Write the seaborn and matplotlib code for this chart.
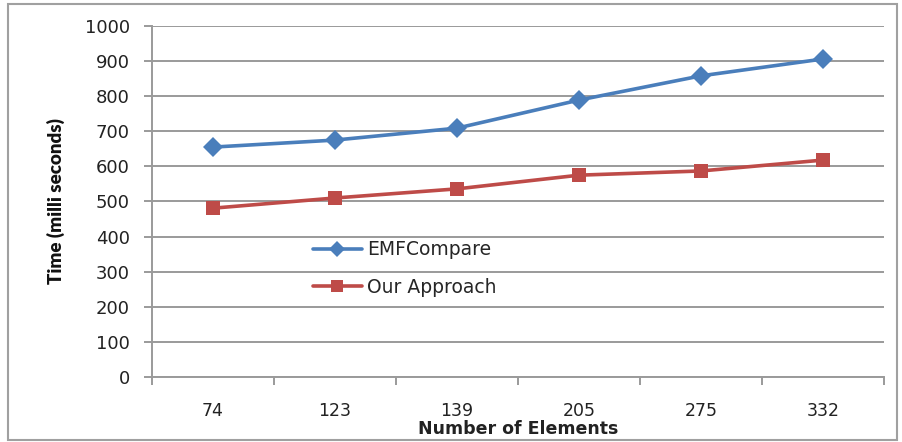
import matplotlib
matplotlib.use("Agg")
import matplotlib.pyplot as plt
import seaborn as sns
import pandas as pd
from matplotlib.patches import Rectangle

# Number of model elements compared and the time taken (ms)
elements = ["74", "123", "139", "205", "275", "332"]
emf_compare = [655, 675, 709, 789, 858, 906]
our_approach = [481, 510, 536, 575, 587, 618]
series_names = ["EMFCompare", "Our Approach"]
y_ticks = [0, 100, 200, 300, 400, 500, 600, 700, 800, 900, 1000]

df = pd.DataFrame({
    "Number of Elements": elements * 2,
    "Time": emf_compare + our_approach,
    "Series": [series_names[0]] * len(elements) + [series_names[1]] * len(elements),
})

sns.set_theme(style="white")
plt.rcParams["font.family"] = ["DejaVu Sans"]

fig = plt.figure(figsize=(9.02, 4.42), dpi=100)
ax = fig.add_axes([152 / 902, 1 - 377 / 442, 732 / 902, 351 / 442])

palette = {"EMFCompare": "#4A7EBB", "Our Approach": "#BE4B48"}
markers = {"EMFCompare": "D", "Our Approach": "s"}
sns.lineplot(data=df, x="Number of Elements", y="Time", hue="Series",
             style="Series", markers=markers, dashes=False, palette=palette,
             sort=False, linewidth=2.6, markersize=10, markeredgewidth=0,
             ax=ax, legend=False, zorder=3)

# Gridlines and axes in the grey office-chart style
grid_c = "#9a9a9a"
ax.set_ylim(0, 1000)
ax.set_xlim(-0.5, len(elements) - 0.5)
ax.set_yticks(y_ticks)
ax.set_yticklabels([str(v) for v in y_ticks], fontsize=13, color="#222222")
ax.yaxis.grid(True, color=grid_c, linewidth=1.4)
ax.xaxis.grid(False)
ax.set_axisbelow(True)
for s in ["top", "right"]:
    ax.spines[s].set_visible(False)
for s in ["left", "bottom"]:
    ax.spines[s].set_color(grid_c)
    ax.spines[s].set_linewidth(1.4)

ax.set_xticks(range(len(elements)))
ax.set_xticklabels(elements, fontsize=12.5, color="#222222")
ax.set_xticks([i - 0.5 for i in range(len(elements) + 1)], minor=True)
ax.tick_params(axis="x", which="major", bottom=True, length=0, pad=18)
ax.tick_params(axis="x", which="minor", bottom=True, length=6, width=1.4,
               color=grid_c, direction="out")
ax.tick_params(axis="y", which="major", left=True, length=6, width=1.4,
               color=grid_c, direction="out", pad=10)

ax.set_xlabel("Number of Elements", fontsize=12.5, fontweight="bold",
              labelpad=0, color="#222222")
ax.set_ylabel("Time (milli seconds)", fontsize=13.5, fontweight="heavy",
              family=["Lato", "DejaVu Sans"], labelpad=14, color="#111111")

handles, labels = [], []
for name in series_names:
    h, = ax.plot([], [], color=palette[name], marker=markers[name],
                 linewidth=2.6, markersize=8, markeredgewidth=0)
    handles.append(h)
    labels.append(name)
ax.legend(handles, labels, loc="upper left", bbox_to_anchor=(0.22, 0.39),
          frameon=False, fontsize=13.5, handlelength=2.6, handletextpad=0.3,
          labelspacing=1.0, borderpad=0, borderaxespad=0)

# Outer chart border
fig.patches.append(Rectangle((8 / 902, 2 / 442), 889 / 902, 436 / 442,
                             transform=fig.transFigure, fill=False,
                             edgecolor="#a0a0a0", linewidth=1.5))

fig.savefig("out.png", dpi=100)
